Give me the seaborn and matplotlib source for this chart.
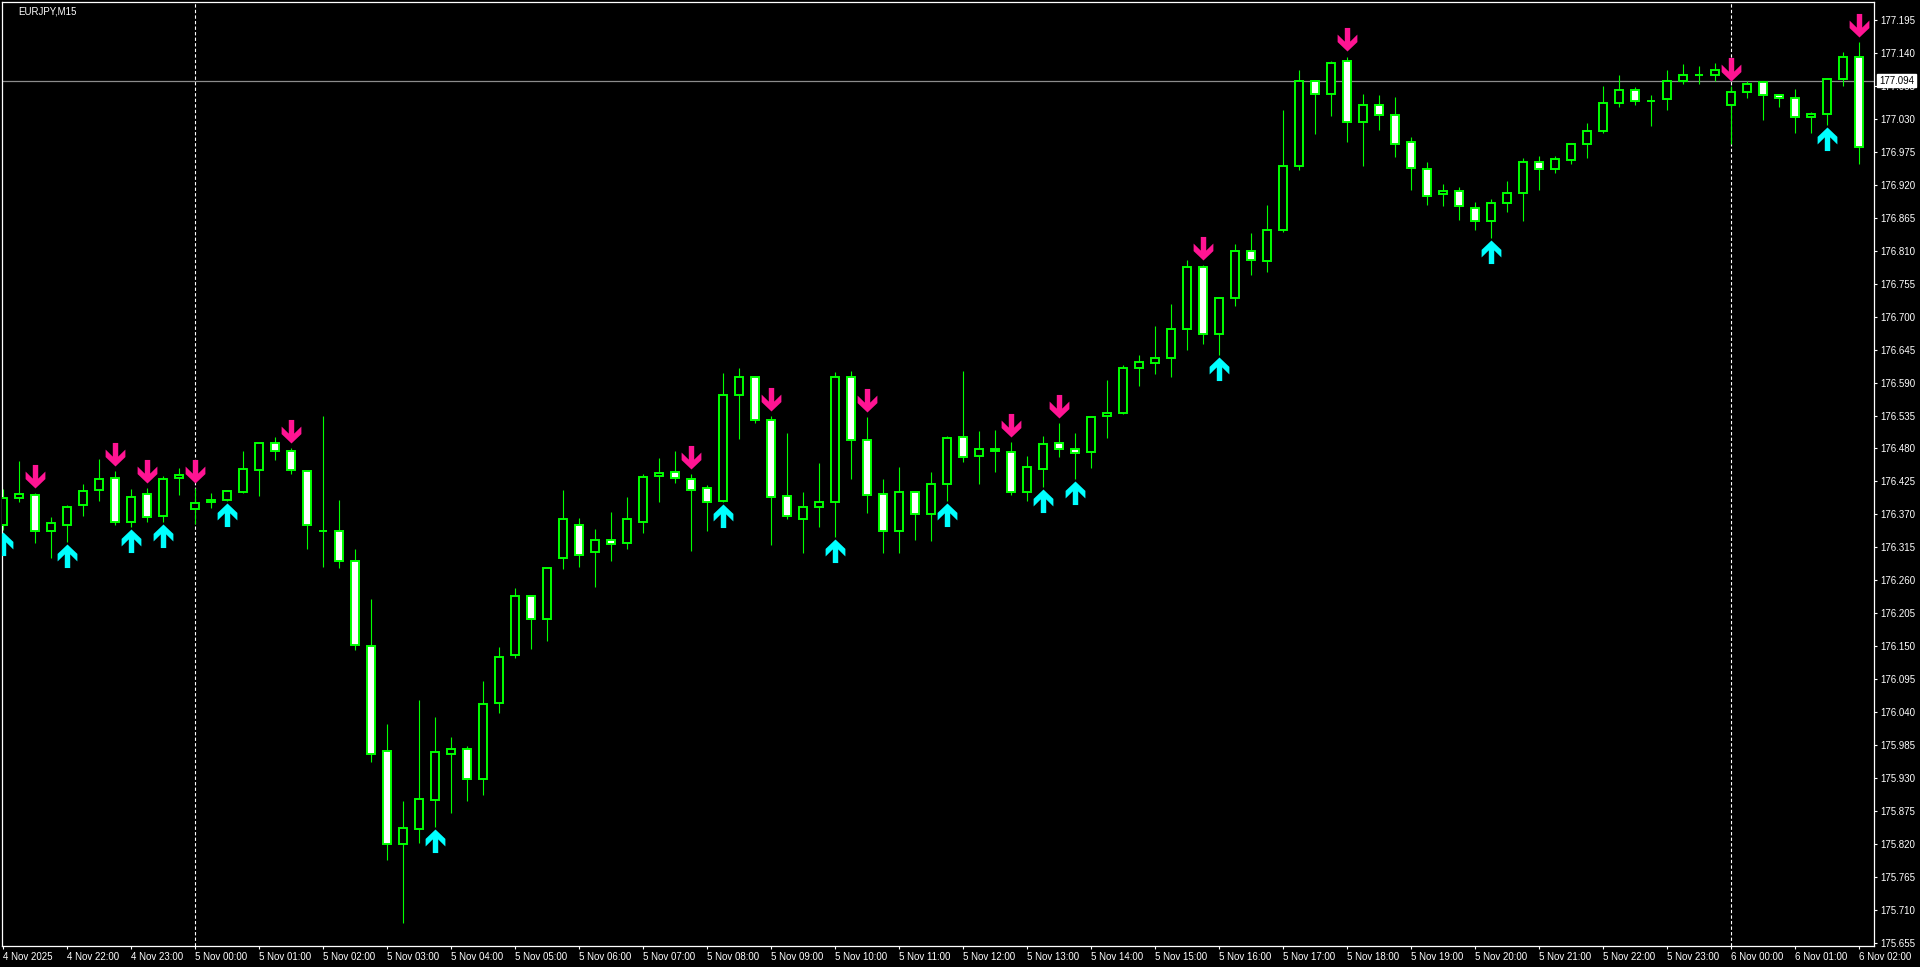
import numpy as np
import pandas as pd
import matplotlib
matplotlib.use("Agg")
import matplotlib.pyplot as plt
import matplotlib.transforms as mtransforms
from matplotlib.path import Path
import seaborn as sns

# ---------------- data (EURJPY, M15) ----------------
opens = [176.352, 176.397, 176.402, 176.342, 176.353, 176.385, 176.410, 176.430, 176.358, 176.404,
         176.367, 176.430, 176.379, 176.390, 176.394, 176.407, 176.444, 176.489, 176.475, 176.442,
         176.343, 176.342, 176.293, 176.150, 175.975, 175.820, 175.845, 175.893, 175.970, 175.978,
         175.928, 176.055, 176.135, 176.233, 176.195, 176.298, 176.352, 176.307, 176.328, 176.323,
         176.358, 176.434, 176.440, 176.429, 176.414, 176.392, 176.569, 176.599, 176.527, 176.400,
         176.363, 176.383, 176.390, 176.600, 176.494, 176.404, 176.343, 176.407, 176.370, 176.420,
         176.499, 176.467, 176.479, 176.474, 176.407, 176.445, 176.489, 176.479, 176.474, 176.534,
         176.540, 176.614, 176.622, 176.631, 176.679, 176.782, 176.671, 176.731, 176.809, 176.792,
         176.844, 176.951, 177.093, 177.071, 177.126, 177.024, 177.053, 177.036, 176.991, 176.946,
         176.904, 176.909, 176.882, 176.859, 176.889, 176.907, 176.958, 176.946, 176.961, 176.988,
         177.009, 177.056, 177.078, 177.059, 177.063, 177.094, 177.104, 177.104, 177.053, 177.074,
         177.091, 177.069, 177.064, 177.033, 177.038, 177.096, 177.133]
highs = [176.412, 176.459, 176.405, 176.366, 176.385, 176.420, 176.462, 176.442, 176.412, 176.414,
         176.434, 176.447, 176.414, 176.405, 176.411, 176.476, 176.489, 176.499, 176.480, 176.443,
         176.534, 176.394, 176.312, 176.229, 176.020, 175.892, 176.060, 176.032, 175.999, 175.983,
         176.092, 176.149, 176.247, 176.235, 176.282, 176.411, 176.364, 176.346, 176.374, 176.399,
         176.437, 176.464, 176.476, 176.437, 176.419, 176.606, 176.614, 176.601, 176.534, 176.505,
         176.407, 176.455, 176.607, 176.609, 176.532, 176.429, 176.449, 176.409, 176.440, 176.500,
         176.609, 176.509, 176.510, 176.490, 176.467, 176.500, 176.522, 176.505, 176.534, 176.595,
         176.619, 176.636, 176.684, 176.721, 176.794, 176.786, 176.733, 176.821, 176.839, 176.886,
         177.045, 177.111, 177.095, 177.126, 177.134, 177.071, 177.069, 177.066, 176.999, 176.958,
         176.921, 176.916, 176.892, 176.897, 176.926, 176.964, 176.968, 176.968, 176.989, 177.023,
         177.084, 177.104, 177.083, 177.069, 177.111, 177.121, 177.119, 177.124, 177.084, 177.094,
         177.093, 177.071, 177.079, 177.041, 177.098, 177.141, 177.158]
lows = [176.344, 176.391, 176.323, 176.298, 176.324, 176.368, 176.393, 176.353, 176.349, 176.358,
        176.358, 176.402, 176.354, 176.380, 176.392, 176.405, 176.401, 176.460, 176.437, 176.313,
        176.283, 176.281, 176.143, 175.956, 175.793, 175.688, 175.821, 175.849, 175.871, 175.891,
        175.902, 176.038, 176.130, 176.146, 176.158, 176.279, 176.283, 176.249, 176.293, 176.313,
        176.339, 176.391, 176.423, 176.309, 176.343, 176.391, 176.495, 176.522, 176.319, 176.362,
        176.306, 176.349, 176.332, 176.429, 176.373, 176.306, 176.306, 176.328, 176.325, 176.392,
        176.457, 176.420, 176.440, 176.402, 176.392, 176.415, 176.465, 176.429, 176.447, 176.497,
        176.537, 176.585, 176.604, 176.599, 176.644, 176.654, 176.636, 176.717, 176.769, 176.774,
        176.842, 176.944, 177.004, 177.035, 176.992, 176.952, 177.011, 176.966, 176.912, 176.886,
        176.884, 176.862, 176.844, 176.831, 176.874, 176.859, 176.911, 176.939, 176.954, 176.964,
        177.007, 177.049, 177.053, 177.018, 177.044, 177.089, 177.088, 177.093, 176.988, 177.064,
        177.028, 177.049, 177.006, 177.006, 177.019, 177.084, 176.954]
closes = [176.397, 176.404, 176.342, 176.355, 176.383, 176.409, 176.429, 176.358, 176.399, 176.365,
          176.429, 176.435, 176.389, 176.394, 176.409, 176.445, 176.489, 176.475, 176.444, 176.353,
          176.342, 176.292, 176.152, 175.971, 175.820, 175.846, 175.895, 175.973, 175.978, 175.928,
          176.053, 176.132, 176.233, 176.195, 176.280, 176.362, 176.303, 176.328, 176.320, 176.362,
          176.432, 176.439, 176.430, 176.410, 176.390, 176.569, 176.599, 176.527, 176.399, 176.367,
          176.383, 176.390, 176.600, 176.494, 176.402, 176.343, 176.407, 176.370, 176.420, 176.497,
          176.465, 176.479, 176.475, 176.407, 176.449, 176.487, 176.479, 176.472, 176.532, 176.540,
          176.614, 176.624, 176.631, 176.679, 176.782, 176.671, 176.731, 176.809, 176.794, 176.844,
          176.951, 177.093, 177.071, 177.124, 177.024, 177.053, 177.036, 176.988, 176.948, 176.902,
          176.909, 176.884, 176.859, 176.889, 176.907, 176.958, 176.946, 176.963, 176.988, 177.009,
          177.056, 177.078, 177.059, 177.059, 177.093, 177.103, 177.104, 177.111, 177.074, 177.089,
          177.069, 177.064, 177.033, 177.038, 177.096, 177.133, 176.983]

sell_signals = [2, 7, 9, 12, 18, 43, 48, 54, 63, 66, 75, 84, 108, 116]
buy_signals = [0, 4, 8, 10, 14, 27, 45, 52, 59, 65, 67, 76, 93, 114]

time_labels = ["4 Nov 2025", "4 Nov 22:00", "4 Nov 23:00",
               "5 Nov 00:00", "5 Nov 01:00", "5 Nov 02:00", "5 Nov 03:00", "5 Nov 04:00",
               "5 Nov 05:00", "5 Nov 06:00", "5 Nov 07:00", "5 Nov 08:00", "5 Nov 09:00",
               "5 Nov 10:00", "5 Nov 11:00", "5 Nov 12:00", "5 Nov 13:00", "5 Nov 14:00",
               "5 Nov 15:00", "5 Nov 16:00", "5 Nov 17:00", "5 Nov 18:00", "5 Nov 19:00",
               "5 Nov 20:00", "5 Nov 21:00", "5 Nov 22:00", "5 Nov 23:00",
               "6 Nov 00:00", "6 Nov 01:00", "6 Nov 02:00"]
day_breaks = [12, 108]
price_ticks = [175.655, 175.710, 175.765, 175.820, 175.875, 175.930, 175.985, 176.040,
               176.095, 176.150, 176.205, 176.260, 176.315, 176.370, 176.425, 176.480,
               176.535, 176.590, 176.645, 176.700, 176.755, 176.810, 176.865, 176.920,
               176.975, 177.030, 177.085, 177.140, 177.195]
bid_price = 177.094
title_text = "EURJPY,M15"

# ---------------- style ----------------
sns.set_theme(style="dark", rc={
    "axes.facecolor": "black", "figure.facecolor": "black",
    "axes.edgecolor": "white", "axes.grid": False,
    "xtick.color": "white", "ytick.color": "white",
    "text.color": "white", "axes.linewidth": 0.9,
})
plt.rcParams["font.family"] = ["Liberation Sans", "DejaVu Sans"]

GREEN = "#00ff00"
PINK = "#ff1493"
CYAN = "#00ffff"
FS = 7.0

df = pd.DataFrame({"open": opens, "high": highs, "low": lows, "close": closes})
df["x"] = np.arange(len(df))
df["bottom"] = df[["open", "close"]].min(axis=1)
df["height"] = (df["close"] - df["open"]).abs()
df["fill"] = np.where(df["close"] < df["open"], "white", "black")

fig = plt.figure(figsize=(19.2, 9.67), dpi=100)
ax = fig.add_axes([2 / 1920, 21 / 967, 1872 / 1920, 944 / 967])
ax.set_facecolor("black")

# wicks
ax.vlines(df["x"], df["low"], df["high"], color=GREEN, linewidth=0.8, zorder=2)
# bodies
ax.bar(df["x"], df["height"], bottom=df["bottom"], width=0.52,
       color=df["fill"], edgecolor=GREEN, linewidth=1.4, zorder=3)

# day separators
for d in day_breaks:
    ax.axvline(d, color="white", linewidth=0.8, linestyle=(0, (3, 2)), zorder=1)

# bid line
ax.axhline(bid_price, color="#8c8c8c", linewidth=0.9, zorder=1.5)

# signal arrows
down_arrow = Path([(0, 0), (0.42, 0.40), (0.42, 0.72), (0.115, 0.42), (0.115, 1.0),
                   (-0.115, 1.0), (-0.115, 0.42), (-0.42, 0.72), (-0.42, 0.40), (0, 0)],
                  closed=True)
up_arrow = Path([(x, -y) for x, y in down_arrow.vertices], closed=True)

sell_df = pd.DataFrame({"x": sell_signals,
                        "y": [highs[i] + 0.0092 for i in sell_signals]})
buy_df = pd.DataFrame({"x": buy_signals,
                       "y": [lows[i] - 0.0033 for i in buy_signals]})
sns.scatterplot(data=sell_df, x="x", y="y", marker=down_arrow, s=1150, color=PINK,
                linewidth=0, ax=ax, zorder=6, legend=False, clip_on=True)
sns.scatterplot(data=buy_df, x="x", y="y", marker=up_arrow, s=1150, color=CYAN,
                linewidth=0, ax=ax, zorder=6, legend=False, clip_on=True)

# axes limits
ax.set_xlim(-0.08, 116.92)
ax.set_ylim(175.6498, 177.225)
ax.set_xlabel("")
ax.set_ylabel("")

# y axis on right
ax.set_yticks(price_ticks)
ax.set_yticklabels([f"{v:.3f}" for v in price_ticks])
ax.yaxis.tick_right()
ax.tick_params(axis="y", which="both", right=True, left=False, labelright=True,
               labelleft=False, length=2.5, width=0.8, pad=2.2, colors="white",
               labelsize=FS, direction="out")

# x axis
ax.set_xticks(list(range(0, 117, 4)))
ax.set_xticklabels(time_labels)
for lab in ax.get_xticklabels():
    lab.set_horizontalalignment("left")
ax.tick_params(axis="x", which="both", bottom=True, top=False, length=2.5, width=0.8,
               pad=1.6, colors="white", labelsize=FS, direction="out")

for sp in ax.spines.values():
    sp.set_color("white")
    sp.set_linewidth(0.9)
    sp.set_visible(True)

# bid price label box
trans = mtransforms.blended_transform_factory(ax.transAxes, ax.transData)
ax.text(1.0 + 5.0 / 1872, bid_price, f"{bid_price:.3f}", transform=trans,
        ha="left", va="center", fontsize=FS, color="black", zorder=20, clip_on=False,
        bbox=dict(boxstyle="square,pad=0.2", facecolor="white", edgecolor="white"))

# symbol title
fig.text(18 / 1920, 1 - 11 / 967, title_text, ha="left", va="center",
         fontsize=FS, color="white")

fig.savefig("out.png", dpi=100, facecolor="black")
